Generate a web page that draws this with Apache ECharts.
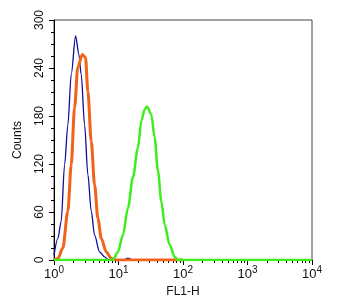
<!DOCTYPE html>
<html>
<head>
<meta charset="utf-8">
<script src="https://cdn.jsdelivr.net/npm/echarts@6/dist/echarts.min.js"></script>
<style>
html,body{margin:0;padding:0;background:#fff;}
#c{width:350px;height:304px;}
</style>
</head>
<body>
<div id="c"></div>
<script>
// FL1-H channel values (log scale) and counts for each histogram
const blueX = [1.0, 1.15, 1.29, 1.46, 1.64, 1.85, 2.16, 2.43, 2.64, 2.98, 3.35, 3.78, 4.26, 5.09, 6.09, 7.0, 12.8, 13.2, 15.0, 15.5];
const blueY = [6, 27, 48, 119, 169, 232, 280, 257, 232, 169, 107, 61, 31, 10, 4, 0, 0, 2, 2, 0];
const orangeX = [1.0, 1.15, 1.37, 1.64, 1.85, 2.08, 2.34, 2.74, 3.08, 3.35, 3.78, 4.26, 4.79, 5.41, 6.46, 7.73, 8.5, 100];
const orangeY = [0, 2, 15, 61, 119, 190, 241, 257, 253, 211, 148, 94, 52, 27, 10, 2, 0, 0];
const greenX = [1.0, 8.18, 9.79, 11.7, 14.0, 16.7, 20.0, 22.6, 25.4, 27.6, 32.3, 36.3, 40.9, 46.2, 52.0, 62.1, 74.3, 83.6, 10000];
const greenY = [0, 0, 10, 31, 65, 103, 140, 174, 188, 192, 182, 153, 111, 73, 44, 19, 4, 0, 0];
const xMajorTicks = [1, 10, 100, 1000, 10000];
const xMinorTicks = [2,3,4,5,6,7,8,9,20,30,40,50,60,70,80,90,200,300,400,500,600,700,800,900,2000,3000,4000,5000,6000,7000,8000,9000];
const yTicks = [0, 60, 120, 180, 240, 300];

function pairs(xs, ys){ return xs.map((x,i)=>[x, ys[i]]); }

const font = 'Liberation Sans, Arial, sans-serif';
const chart = echarts.init(document.getElementById('c'), null, {renderer:'canvas'});
chart.setOption({
  animation:false,
  grid:{left:54, right:38, top:20, bottom:44, show:true, borderColor:'#444', borderWidth:1, backgroundColor:'transparent'},
  xAxis:[{
    type:'log', logBase:10, min:1, max:10000,
    name:'FL1-H', nameLocation:'middle', nameGap:24,
    nameTextStyle:{fontFamily:font, fontSize:12, color:'#111'},
    axisLine:{show:true, lineStyle:{color:'#000', width:1}},
    axisTick:{show:true, length:5, inside:false, customValues:xMajorTicks, lineStyle:{color:'#000'}},
    axisLabel:{
      customValues:xMajorTicks, margin:5, fontFamily:font, color:'#111',
      formatter:function(v){ return '{b|10}{s|' + Math.round(Math.log10(v)) + '}'; },
      rich:{
        b:{fontSize:13, fontFamily:font, color:'#111', verticalAlign:'bottom', lineHeight:16},
        s:{fontSize:10, fontFamily:font, color:'#111', verticalAlign:'top', lineHeight:16, padding:[0,0,6,0]}
      }
    },
    splitLine:{show:false}
  },{
    type:'log', logBase:10, min:1, max:10000, position:'bottom',
    axisLine:{show:false},
    axisTick:{show:true, length:3, customValues:xMinorTicks, lineStyle:{color:'#000'}},
    axisLabel:{show:false},
    splitLine:{show:false}
  }],
  yAxis:{
    type:'value', min:0, max:300, interval:60,
    name:'Counts', nameLocation:'middle', nameGap:30,
    nameTextStyle:{fontFamily:font, fontSize:12, color:'#111'},
    axisLine:{show:true, lineStyle:{color:'#000', width:1}},
    axisTick:{show:true, length:5, lineStyle:{color:'#000'}},
    minorTick:{show:true, splitNumber:4, length:3, lineStyle:{color:'#000'}},
    axisLabel:{rotate:90, margin:8, fontFamily:font, fontSize:12, color:'#111',
      customValues:yTicks},
    splitLine:{show:false}
  },
  series:[
    {type:'line', data:pairs(blueX, blueY), showSymbol:false, smooth:0.3, smoothMonotone:'x',
     lineStyle:{color:'#0d0d9c', width:1.3}, z:2},
    {type:'line', data:pairs(orangeX, orangeY), showSymbol:false, smooth:0.3, smoothMonotone:'x',
     lineStyle:{color:'#f0641a', width:3}, z:3},
    {type:'line', data:pairs(greenX, greenY), showSymbol:false, smooth:0.3, smoothMonotone:'x',
     lineStyle:{color:'#3ded1c', width:2.5}, z:4}
  ]
});
</script>
</body>
</html>
